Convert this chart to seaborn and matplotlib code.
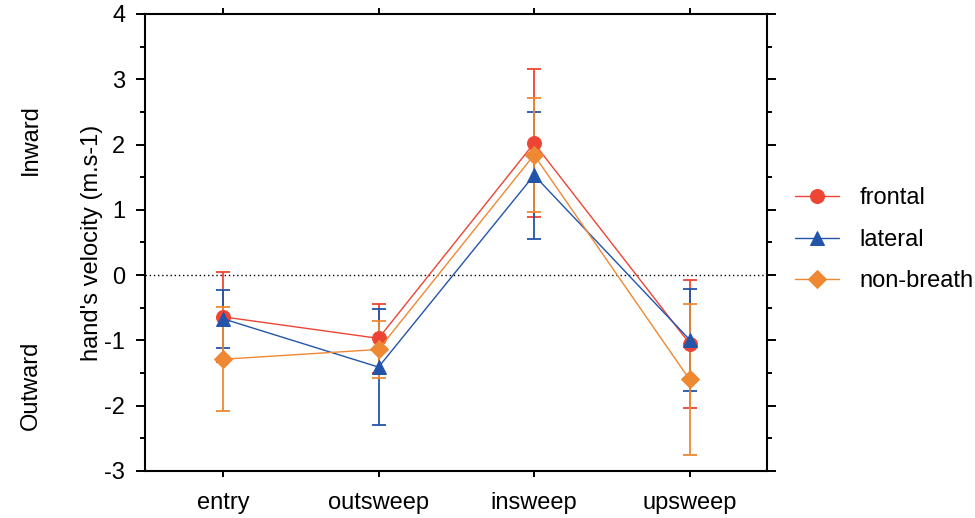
import numpy as np
import seaborn as sns
import matplotlib.pyplot as plt
from matplotlib.ticker import MultipleLocator

sns.set_style("ticks")
plt.rcParams['font.family'] = ['Liberation Sans', 'DejaVu Sans']
plt.rcParams['axes.unicode_minus'] = False
plt.rcParams['text.color'] = 'black'

# phases of the stroke
categories = ["entry", "outsweep", "insweep", "upsweep"]

# mean hand velocity and error (m.s-1) per breathing condition
frontal_mean = [-0.64, -0.97, 2.02, -1.05]
frontal_err = [0.69, 0.53, 1.13, 0.98]
lateral_mean = [-0.67, -1.41, 1.53, -0.99]
lateral_err = [0.44, 0.89, 0.97, 0.78]
nonbreath_mean = [-1.29, -1.14, 1.84, -1.60]
nonbreath_err = [0.80, 0.44, 0.87, 1.15]

series = [
    ("frontal", frontal_mean, frontal_err, "#EE4433", "o", 10),
    ("lateral", lateral_mean, lateral_err, "#2255AA", "^", 10),
    ("non-breath", nonbreath_mean, nonbreath_err, "#EE8833", "D", 9),
]

fs = 17

fig = plt.figure(figsize=(9.75, 5.18), dpi=100)
ax = fig.add_axes([0.149, 0.091, 0.638, 0.882])

pos = np.arange(len(categories))

# dotted zero line
ax.axhline(0, color="black", lw=1, ls=(0, (1, 2)), zorder=1)

for name, mean, err, col, mk, ms in series:
    ax.errorbar(pos, mean, yerr=err, fmt="none", ecolor=col,
                elinewidth=1.3, capsize=5, capthick=1.3, zorder=2)
    sns.lineplot(x=pos, y=mean, color=col, marker=mk, markersize=ms,
                 markeredgecolor=col, linewidth=1.0, label=name, ax=ax, zorder=3)

ax.set_xlim(-0.5, 3.5)
ax.set_ylim(-3, 4)
ax.set_xticks(pos)
ax.set_xticklabels(categories)
ax.yaxis.set_major_locator(MultipleLocator(1))
ax.yaxis.set_minor_locator(MultipleLocator(0.5))
ax.tick_params(axis="both", which="both", direction="out", top=True, right=True,
               labelsize=fs, width=1.4, colors="black", labelcolor="black")
ax.tick_params(axis="y", which="major", length=6.5, pad=8)
ax.tick_params(axis="y", which="minor", length=3.5)
ax.tick_params(axis="x", which="major", length=4, pad=11)
for sp in ax.spines.values():
    sp.set_linewidth(1.5)
    sp.set_color("black")

ax.set_xlabel("")
ax.set_ylabel("hand's velocity (m.s-1)", fontsize=fs, labelpad=1, color="black")

fig.text(0.032, 0.73, "Inward", rotation=90, fontsize=fs, ha="center", va="center")
fig.text(0.032, 0.257, "Outward", rotation=90, fontsize=fs, ha="center", va="center")

leg = ax.legend(loc="center left", bbox_to_anchor=(0.815, 0.537), bbox_transform=fig.transFigure,
                frameon=False, fontsize=fs, handlelength=1.9, labelspacing=0.82,
                handletextpad=0.85, borderaxespad=0, borderpad=0)
for t in leg.get_texts():
    t.set_color("black")

fig.savefig("out.png", dpi=100)
